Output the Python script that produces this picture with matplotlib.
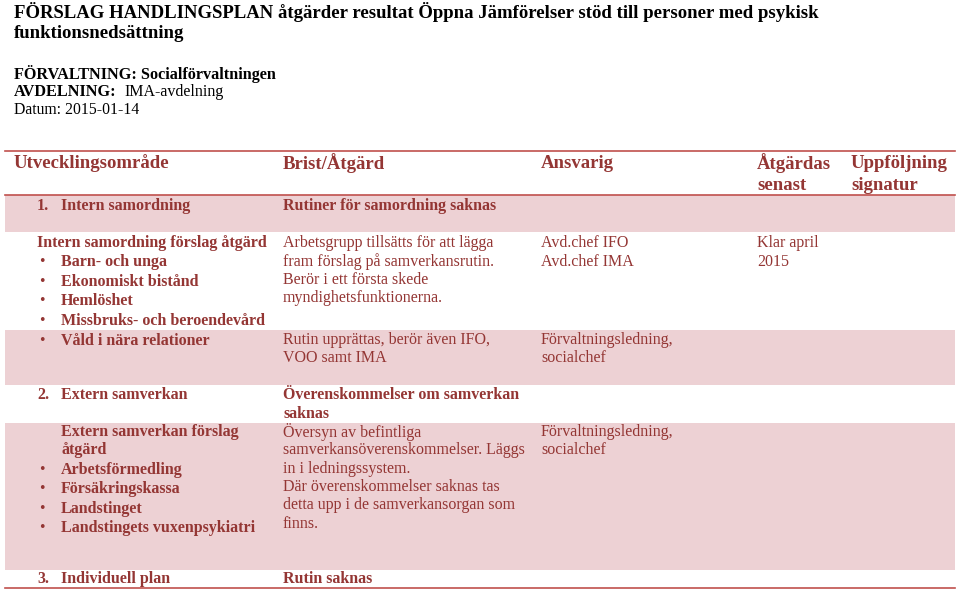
import matplotlib.pyplot as plt
from matplotlib.patches import Rectangle

# --- content -------------------------------------------------------------
title_lines = [
    "FÖRSLAG HANDLINGSPLAN åtgärder resultat Öppna Jämförelser stöd till personer med psykisk",
    "funktionsnedsättning",
]
headers = ["Utvecklingsområde", "Brist/Åtgärd", "Ansvarig", "Åtgärdas\nsenast", "Uppföljning\nsignatur"]

area1_title = "Intern samordning"
area1_brist = "Rutiner för samordning saknas"
area1_list = ["Barn- och unga", "Ekonomiskt bistånd", "Hemlöshet", "Missbruks- och beroendevård",
              "Våld i nära relationer"]
area1_atgard = ["Arbetsgrupp tillsätts för att lägga", "fram förslag på samverkansrutin.",
                "Berör i ett första skede", "myndighetsfunktionerna."]
area1_atgard2 = ["Rutin upprättas, berör även IFO,", "VOO samt IMA"]
area1_ansvar = ["Avd.chef IFO", "Avd.chef IMA"]
area1_ansvar2 = ["Förvaltningsledning,", "socialchef"]
area1_senast = ["Klar april", "2015"]

area2_title = "Extern samverkan"
area2_brist = ["Överenskommelser om samverkan", "saknas"]
area2_list = ["Arbetsförmedling", "Försäkringskassa", "Landstinget", "Landstingets vuxenpsykiatri"]
area2_atgard = ["Översyn av befintliga", "samverkansöverenskommelser. Läggs", "in i ledningssystem.",
                "Där överenskommelser saknas tas", "detta upp i de samverkansorgan som", "finns."]
area2_ansvar = ["Förvaltningsledning,", "socialchef"]

area3_title = "Individuell plan"
area3_brist = "Rutin saknas"

# --- style -----------------------------------------------------------------
FONT = "Liberation Serif"
RED = "#943634"
PINK = "#EDD1D4"
LINE = "#C0504D"
col_x = [14, 283, 541, 757, 851]
BODY = 11.5

fig = plt.figure(figsize=(9.6, 5.93), dpi=100)
ax = fig.add_axes([0, 0, 1, 1])
ax.set_xlim(0, 960)
ax.set_ylim(593, 0)
ax.axis("off")


def txt(x, y, s, bold=False, size=BODY, color=RED):
    ax.text(x, y, s, fontfamily=FONT, fontsize=size, color=color,
            fontweight="bold" if bold else "normal", va="center", ha="left")


def lines(x, y0, items, step, **kw):
    for i, s in enumerate(items):
        txt(x, y0 + i * step, s, **kw)


def bullets(y0, items, step):
    for i, s in enumerate(items):
        ax.text(42, y0 + i * step, "•", fontfamily=FONT, fontsize=BODY, color=RED,
                va="center", ha="center")
        txt(61, y0 + i * step, s, bold=True)


# pink bands
for top, bot in [(195, 232), (330, 385), (423, 570)]:
    ax.add_patch(Rectangle((5, top), 950, bot - top, color=PINK, lw=0))

# rule lines
for y in [151, 195, 588]:
    ax.plot([5, 955], [y, y], color=LINE, lw=1.2)

# header block
lines(14, 12, title_lines, 21, bold=True, size=13.5, color="black")
txt(14, 74, "FÖRVALTNING: Socialförvaltningen", bold=True, size=11.7, color="black")
txt(14, 92, "AVDELNING:", bold=True, size=11.7, color="black")
txt(124, 92, "IMA-avdelning", size=11.5, color="black")
txt(14, 110, "Datum: 2015-01-14", size=11.3, color="black")

# table header
for x, h in zip(col_x, headers):
    lines(x, 163, h.split("\n"), 22, bold=True, size=13.5)

# section 1
txt(37, 206, "1.", bold=True)
txt(61, 206, area1_title, bold=True)
txt(283, 206, area1_brist, bold=True)
txt(37, 243, "Intern samordning förslag åtgärd", bold=True)
bullets(262, area1_list, 19.7)
lines(283, 243, area1_atgard, 18.5)
lines(283, 340, area1_atgard2, 18.5)
lines(541, 243, area1_ansvar, 18.5)
lines(541, 340, area1_ansvar2, 18.5)
lines(757, 243, area1_senast, 18.5)

# section 2
txt(37, 395, "2.", bold=True)
txt(61, 395, area2_title, bold=True)
lines(283, 395, area2_brist, 19, bold=True)
lines(61, 432, ["Extern samverkan förslag", "åtgärd"], 18.5, bold=True)
bullets(470, area2_list, 19.3)
lines(283, 432, area2_atgard, 18.3)
lines(541, 432, area2_ansvar, 18.5)

# section 3
txt(37, 579, "3.", bold=True)
txt(61, 579, area3_title, bold=True)
txt(283, 579, area3_brist, bold=True)

fig.savefig("out.png", dpi=100)
